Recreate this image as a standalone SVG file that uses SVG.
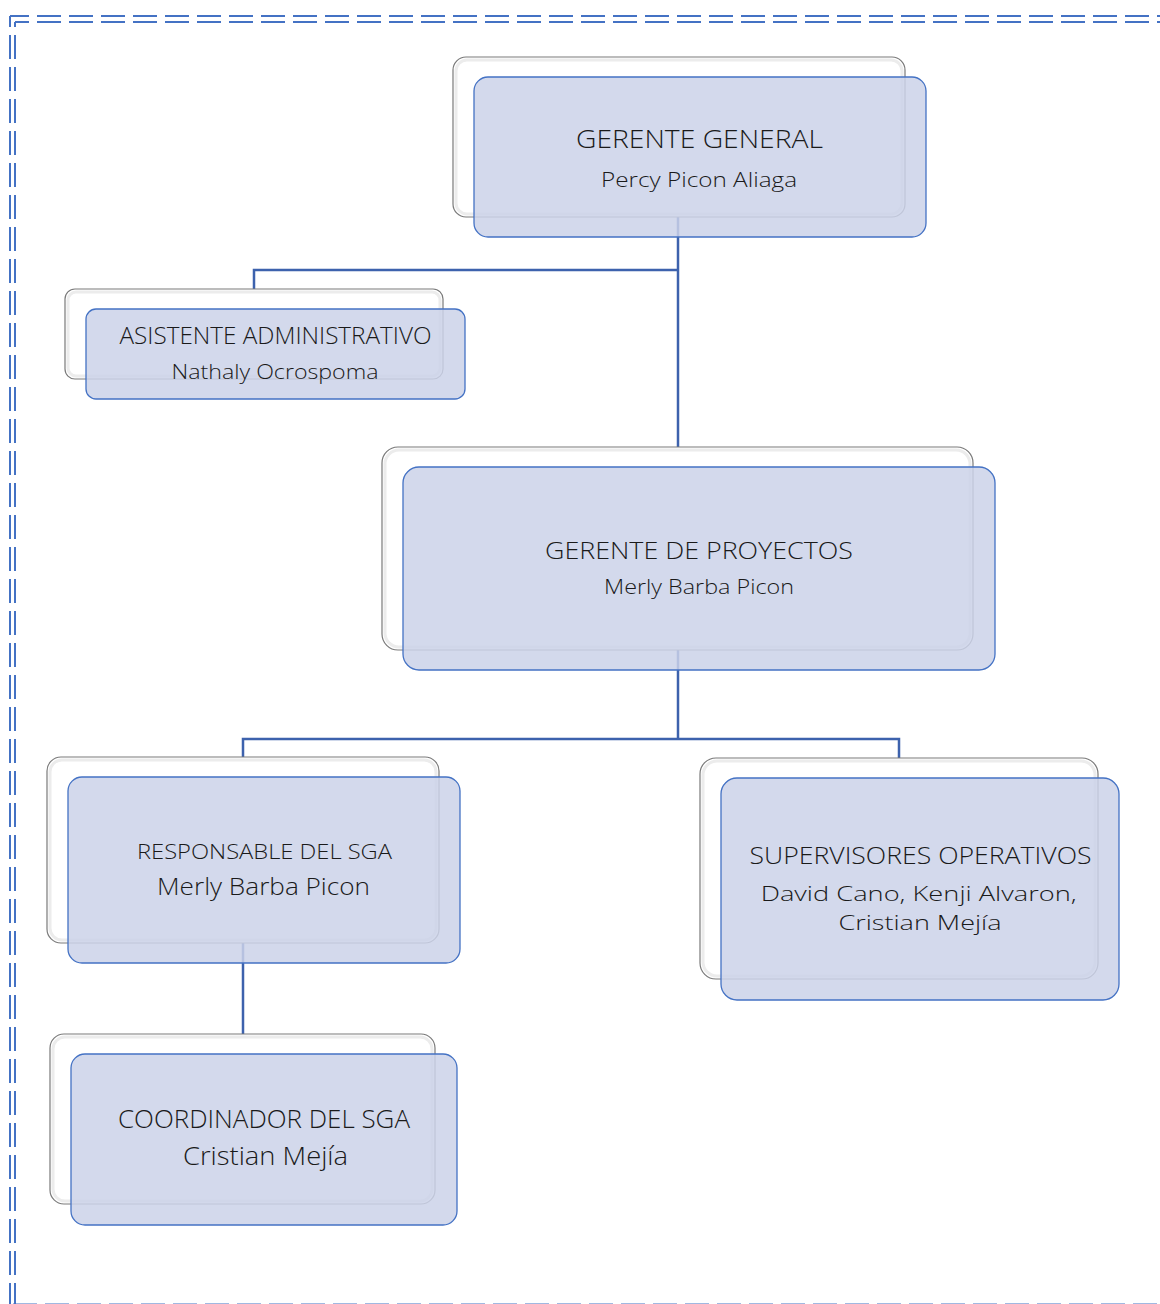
<svg xmlns="http://www.w3.org/2000/svg" width="1160" height="1304" viewBox="0 0 1160 1304">
  <style>
    .frame { fill: none; stroke: #4472c4; stroke-width: 2; stroke-dasharray: 24 8; }
    .back { fill: #ffffff; stroke: #7a7a7a; stroke-width: 1.2; }
    .back-in { fill: none; stroke: #ececec; stroke-width: 3; }
    .front { fill: rgb(203,210,233); fill-opacity: 0.85; stroke: #4472c4; stroke-width: 1.3; }
    .link { fill: none; stroke: #3d62ad; stroke-width: 2.5; }
    text { font-family: "Open Sans", "Noto Sans", "Liberation Sans", sans-serif; font-weight: 300; fill: #1a1a1a; text-anchor: middle; }
  </style>

  <rect width="1160" height="1304" fill="#ffffff"/>

  <!-- double dashed page frame -->
  <g id="frame">
    <line class="frame" x1="10" y1="16" x2="1160" y2="16" stroke-dashoffset="5"/>
    <line class="frame" x1="15" y1="22" x2="1160" y2="22" stroke-dashoffset="10"/>
    <line class="frame" x1="10" y1="16" x2="10" y2="1304" stroke-dashoffset="13"/>
    <line class="frame" x1="15" y1="22" x2="15" y2="1304" stroke-dashoffset="19"/>
    <line class="frame" x1="13" y1="1304.6" x2="1160" y2="1304.6"/>
  </g>

  <!-- connectors -->
  <g id="connectors">
    <path class="link" d="M678,217 V447"/>
    <path class="link" d="M678,270 H254 V289"/>
    <path class="link" d="M678,650 V739"/>
    <path class="link" d="M243,757 V739 H899 V758"/>
    <path class="link" d="M243,943 V1034"/>
  </g>

  <g id="gerente-general">
    <rect class="back" x="453" y="57" width="452" height="160" rx="13"/>
    <rect class="back-in" x="456" y="60" width="446" height="154" rx="11"/>
    <rect class="front" x="474" y="77" width="452" height="160" rx="14"/>
    <text x="699.5" y="148" font-size="25" textLength="247" lengthAdjust="spacingAndGlyphs">GERENTE GENERAL</text>
    <text x="699" y="187" font-size="21" textLength="196" lengthAdjust="spacingAndGlyphs">Percy Picon Aliaga</text>
  </g>

  <g id="asistente-administrativo">
    <rect class="back" x="65" y="289" width="378" height="90" rx="10"/>
    <rect class="back-in" x="68" y="292" width="372" height="84" rx="8"/>
    <rect class="front" x="86" y="309" width="379" height="90" rx="10"/>
    <text x="275.5" y="344" font-size="23" textLength="312" lengthAdjust="spacingAndGlyphs">ASISTENTE ADMINISTRATIVO</text>
    <text x="275" y="379" font-size="21" textLength="207" lengthAdjust="spacingAndGlyphs">Nathaly Ocrospoma</text>
  </g>

  <g id="gerente-proyectos">
    <rect class="back" x="382" y="447" width="591" height="203" rx="16"/>
    <rect class="back-in" x="385" y="450" width="585" height="197" rx="14"/>
    <rect class="front" x="403" y="467" width="592" height="203" rx="16"/>
    <text x="699" y="559" font-size="24" textLength="308" lengthAdjust="spacingAndGlyphs">GERENTE DE PROYECTOS</text>
    <text x="699" y="594" font-size="21" textLength="190" lengthAdjust="spacingAndGlyphs">Merly Barba Picon</text>
  </g>

  <g id="responsable-sga">
    <rect class="back" x="47" y="757" width="392" height="186" rx="14"/>
    <rect class="back-in" x="50" y="760" width="386" height="180" rx="12"/>
    <rect class="front" x="68" y="777" width="392" height="186" rx="14"/>
    <text x="264.5" y="859" font-size="21" textLength="255" lengthAdjust="spacingAndGlyphs">RESPONSABLE DEL SGA</text>
    <text x="263.5" y="895" font-size="24" textLength="213" lengthAdjust="spacingAndGlyphs">Merly Barba Picon</text>
  </g>

  <g id="supervisores-operativos">
    <rect class="back" x="700" y="758" width="398" height="221" rx="16"/>
    <rect class="back-in" x="703" y="761" width="392" height="215" rx="14"/>
    <rect class="front" x="721" y="778" width="398" height="222" rx="16"/>
    <text x="920.5" y="864" font-size="24" textLength="342" lengthAdjust="spacingAndGlyphs">SUPERVISORES OPERATIVOS</text>
    <text x="918.7" y="901" font-size="21" textLength="316" lengthAdjust="spacingAndGlyphs">David Cano, Kenji Alvaron,</text>
    <text x="920" y="930" font-size="21" textLength="163" lengthAdjust="spacingAndGlyphs">Cristian Mejía</text>
  </g>

  <g id="coordinador-sga">
    <rect class="back" x="50" y="1034" width="385" height="170" rx="14"/>
    <rect class="back-in" x="53" y="1037" width="379" height="164" rx="12"/>
    <rect class="front" x="71" y="1054" width="386" height="171" rx="14"/>
    <text x="264" y="1128" font-size="25" textLength="292" lengthAdjust="spacingAndGlyphs">COORDINADOR DEL SGA</text>
    <text x="265.5" y="1165" font-size="25" textLength="165" lengthAdjust="spacingAndGlyphs">Cristian Mejía</text>
  </g>
</svg>
